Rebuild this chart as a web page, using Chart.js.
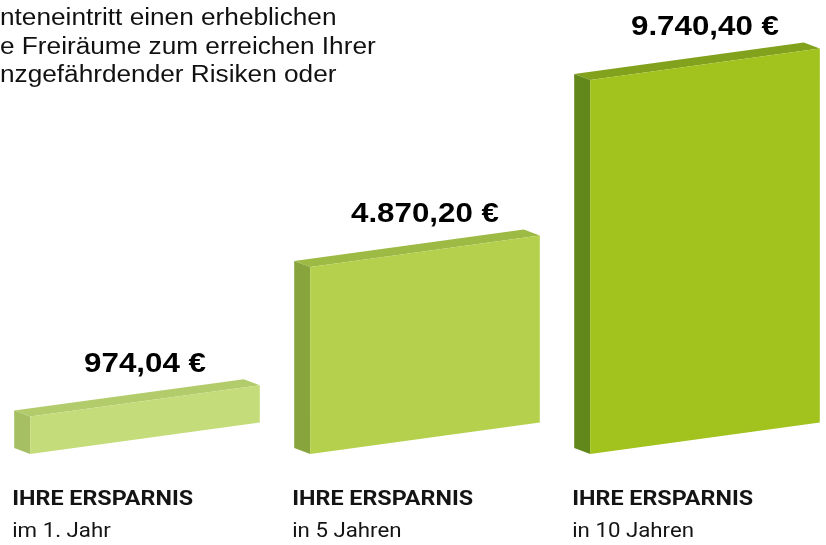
<!DOCTYPE html>
<html>
<head>
<meta charset="utf-8">
<title>Ihre Ersparnis</title>
<script src="https://cdn.jsdelivr.net/npm/chart.js@4.4.0/dist/chart.umd.min.js"></script>
<style>
  body { margin: 0; background: #fff; }
  .wrap { position: relative; width: 826px; height: 545px; overflow: hidden; }
  canvas { display: block; }
  .intro {
    position: absolute; left: 0; top: 3px;
    font: 23.5px "Liberation Sans", Arial, sans-serif; line-height: 28.5px;
    color: #111; white-space: pre;
    transform: scaleX(1.115); transform-origin: 0 0;
  }
</style>
</head>
<body>
<div class="wrap">
  <canvas id="savings" width="826" height="545"></canvas>
  <div class="intro">nteneintritt einen erheblichen
e Freiräume zum erreichen Ihrer
nzgefährdender Risiken oder</div>
</div>
<script>
const periods = ['im 1. Jahr', 'in 5 Jahren', 'in 10 Jahren'];
const savings = [974.04, 4870.20, 9740.40];
const heading = 'IHRE ERSPARNIS';

const frontColors = ['#c4dc7a', '#b4d04c', '#a2c21e'];
const sideColors = ['#a5bf62', '#87a53c', '#62871a'];
const topColors = ['#b2cc6c', '#9cba44', '#82a21e'];

// fake 3d: front face slants up to the right, depth goes up-left
const SLANT = -0.137;
const DEPTH_X = -16, DEPTH_Y = -6;

function euro(v) {
  const parts = v.toFixed(2).split('.');
  return parts[0].replace(/\B(?=(\d{3})+(?!\d))/g, '.') + ',' + parts[1] + ' €';
}

function poly(ctx, pts, color) {
  ctx.beginPath();
  ctx.moveTo(pts[0][0], pts[0][1]);
  for (let i = 1; i < pts.length; i++) ctx.lineTo(pts[i][0], pts[i][1]);
  ctx.closePath();
  ctx.fillStyle = color;
  ctx.fill();
}

// the source picture is a bit stretched sideways, so text gets a scaleX
function stretchedText(ctx, text, x, y, font, sx, align) {
  ctx.save();
  ctx.translate(x, y);
  ctx.scale(sx, 1);
  ctx.font = font;
  ctx.textAlign = align;
  ctx.textBaseline = 'alphabetic';
  ctx.fillText(text, 0, 0);
  ctx.restore();
}

const boxes = {
  id: 'boxes',
  beforeDatasetDraw(chart, args) {
    const ctx = chart.ctx;
    args.meta.data.forEach((bar, i) => {
      const p = bar.getProps(['x', 'y', 'base', 'width'], true);
      const l = p.x - p.width / 2, r = p.x + p.width / 2;
      const drop = SLANT * p.width;
      ctx.save();
      poly(ctx, [[l + DEPTH_X, p.y + DEPTH_Y], [r + DEPTH_X, p.y + drop + DEPTH_Y], [r, p.y + drop], [l, p.y]], topColors[i]);
      poly(ctx, [[l + DEPTH_X, p.y + DEPTH_Y], [l, p.y], [l, p.base], [l + DEPTH_X, p.base + DEPTH_Y]], sideColors[i]);
      poly(ctx, [[l, p.y], [r, p.y + drop], [r, p.base + drop], [l, p.base]], frontColors[i]);

      ctx.fillStyle = '#000';
      stretchedText(ctx, euro(savings[i]), p.x, p.y + drop / 2 - 29,
        'bold 27px "Liberation Sans", Arial, sans-serif', 1.16, 'center');

      ctx.fillStyle = '#141414';
      stretchedText(ctx, heading, l + DEPTH_X - 2, p.base + 51, 'bold 21px Roboto, sans-serif', 1.11, 'left');
      stretchedText(ctx, periods[i], l + DEPTH_X - 2, p.base + 83, '21px Roboto, sans-serif', 1.06, 'left');
      ctx.restore();
    });
    return false;
  }
};

new Chart(document.getElementById('savings'), {
  type: 'bar',
  data: {
    labels: periods,
    datasets: [{
      data: savings,
      backgroundColor: frontColors,
      barPercentage: 0.82,
      categoryPercentage: 1
    }]
  },
  options: {
    responsive: false,
    animation: false,
    layout: { padding: { left: 145, right: 121, top: 70, bottom: 91 } },
    plugins: { legend: { display: false }, tooltip: { enabled: false } },
    scales: {
      x: { display: false, offset: false },
      y: { display: false, min: 0, max: 10000 }
    }
  },
  plugins: [boxes]
});
</script>
</body>
</html>
